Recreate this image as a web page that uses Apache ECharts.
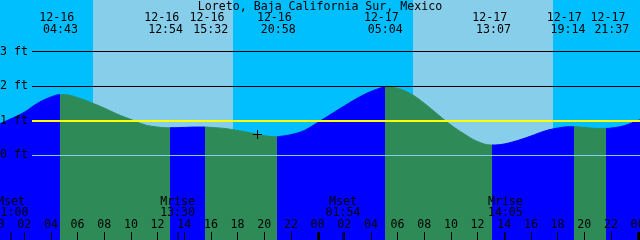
<!DOCTYPE html>
<html><head><meta charset="utf-8">
<script src="https://cdn.jsdelivr.net/npm/echarts@6/dist/echarts.min.js"></script>
<style>html,body{margin:0;padding:0;background:#00BFFF;}#c{width:640px;height:240px;}</style>
</head><body><div id="c"></div>
<script>
// ---------- data ----------
const titleText = 'Loreto, Baja California Sur, Mexico';
const hours = [0,1,2,3,4,5,6,7,8,9,10,11,12,13,14,15,16,17,18,19,20,21,22,23,24,25,26,27,28,29,30,31,32,33,34,35,36,37,38,39,40,41,42,43,44,45,46,47,48,48.2];
const levels = [0.88,1.05,1.24,1.50,1.68,1.75,1.66,1.52,1.36,1.18,1.03,0.88,0.81,0.79,0.80,0.81,0.80,0.77,0.71,0.64,0.56,0.53,0.59,0.71,0.94,1.18,1.42,1.65,1.84,1.98,1.93,1.77,1.50,1.18,0.87,0.61,0.39,0.29,0.32,0.42,0.55,0.69,0.78,0.82,0.80,0.77,0.78,0.85,1.00,1.02];
const extremeTimes = [4.717,12.9,15.533,20.967,29.067,37.117,43.233,45.617];
const extremeLevels = [1.75,0.79,0.81,0.53,1.99,0.29,0.82,0.77];
const extremeDates = ['12-16','12-16','12-16','12-16','12-17','12-17','12-17','12-17'];
const extremeClock = ['04:43','12:54','15:32','20:58','05:04','13:07','19:14','21:37'];
const moonTimes = [1.0,13.5,25.9,38.083];
const moonNames = ['Mset','Mrise','Mset','Mrise'];
const moonClock = ['01:00','13:30','01:54','14:05'];
const sunriseTimes = [7.155,31.155];
const sunsetTimes = [17.655,41.655];
const datumLevels = [3,2,1,0];
const datumLabels = ['3 ft','2 ft','1 ft','0 ft'];
const dayBoundaries = [24,48];
const markerTime = 19.48, markerLevel = 0.609;

// ---------- styles ----------
const FONT = '11.6px "DejaVu Sans Mono"';
const NIGHT = '#00BFFF', DAY = '#87CEEB', RISE = '#0000FF', FALL = '#2E8B57';
const datumColors = ['#000000','#000000','#FFFF00','#87CEEB'];
const datumWidths = [1,1,2,1];
const lineStartHour = 2.58;
const X_MIN = 0, X_MAX = 48.18;
const timeShift = [0,-4,6,1,0,1,-6,6];

// merged curve
const pts = hours.map((h,i)=>[h,levels[i]]).concat(extremeTimes.map((t,i)=>[t,extremeLevels[i]]));
pts.sort((a,b)=>a[0]-b[0]);

// rising/falling pieces
const bounds = [X_MIN].concat(extremeTimes).concat([X_MAX]);
const lastLevel = levels[levels.length-1];
const pieces = [];
for (let i=0;i<bounds.length-1;i++){
  const rising = (i < extremeTimes.length) ? (i===0 ? extremeLevels[0] > levels[0] : extremeLevels[i] > extremeLevels[i-1]) : (lastLevel > extremeLevels[extremeLevels.length-1]);
  const p = {gte: bounds[i], color: rising ? RISE : FALL};
  if (i < bounds.length-2) p.lt = bounds[i+1]; else p.lte = bounds[i+1] + 1;
  pieces.push(p);
}

function txt(x,y,s){
  return {type:'text', x:x, y:y, style:{text:s, fill:'#000', font:FONT, align:'center', verticalAlign:'middle', textAlign:'center', textVerticalAlign:'middle'}};
}

const chart = echarts.init(document.getElementById('c'), null, {renderer:'canvas'});
chart.setOption({
  backgroundColor: NIGHT,
  animation: false,
  title: {text: titleText, left:'center', top: 0, padding: [1,0,0,0],
    textStyle:{fontFamily:'DejaVu Sans Mono', fontSize:11.6, fontWeight:'normal', color:'#000'}},
  grid: {left: -2.4, right: 0, top: 0, bottom: 0, containLabel:false, outerBoundsMode:'none'},
  xAxis: {type:'value', min:X_MIN, max:X_MAX, interval:2, z:20, position:'bottom',
    axisLine:{show:false, onZero:false}, splitLine:{show:false},
    axisTick:{show:true, inside:true, length:8, lineStyle:{color:'#000', width:1}},
    axisLabel:{show:true, inside:true, margin:9, interval:0, showMinLabel:true, showMaxLabel:false, hideOverlap:false,
      fontFamily:'DejaVu Sans Mono', fontSize:11.6, color:'#000',
      formatter:(v)=>{const h=Math.round(v)%24; return (h<10?'0':'')+h;}}},
  yAxis: {type:'value', min:-2.4638, max:4.4928, show:false, splitLine:{show:false}},
  visualMap: {type:'piecewise', show:false, dimension:0, seriesIndex:0, pieces: pieces},
  series: [
    {type:'line', data: pts, smooth:0.4, symbol:'none', lineStyle:{width:1}, areaStyle:{opacity:1, origin:'start'}, z:3,
      markArea:{silent:true, itemStyle:{color:DAY}, data: sunriseTimes.map((t,i)=>[{xAxis:t},{xAxis:sunsetTimes[i]}])},
      markLine:{silent:true, symbol:['none','none'], animation:false,
        label:{show:true, position:'start', distance:4, formatter:'{b}', color:'#000', fontFamily:'DejaVu Sans Mono', fontSize:11.6},
        data: datumLevels.map((v,i)=>[{coord:[lineStartHour,v], name:datumLabels[i], lineStyle:{color:datumColors[i], width:datumWidths[i], type:'solid'}},{coord:[X_MAX,v]}])}
    },
    {type:'custom', z:10, silent:true, data: extremeTimes.map((t,i)=>[t,extremeLevels[i]]),
      renderItem:(params, api)=>{
        const i = params.dataIndex;
        const x = api.coord([api.value(0), 0])[0] + timeShift[i];
        return {type:'group', children:[txt(x-3.8, 17.5, extremeDates[i]), txt(x, 29.5, extremeClock[i])]};
      }},
    {type:'custom', z:10, silent:true, data: moonTimes.map(t=>[t,0]),
      renderItem:(params, api)=>{
        const i = params.dataIndex;
        const x = api.coord([api.value(0), 0])[0];
        return {type:'group', children:[txt(x, 202.2, moonNames[i]), txt(x, 213.3, moonClock[i]),
          {type:'rect', shape:{x:Math.round(x)-0.5, y:232, width:1, height:8}, style:{fill:'#000'}}]};
      }},
    {type:'custom', z:10, silent:true, data: dayBoundaries.map(t=>[t,0]),
      renderItem:(params, api)=>{
        const x = api.coord([api.value(0), 0])[0];
        return {type:'rect', shape:{x:x-0.6, y:232, width:3, height:8}, style:{fill:'#000'}};
      }},
    {type:'custom', z:10, silent:true, data: [[markerTime, markerLevel]],
      renderItem:(params, api)=>{
        const p = api.coord([api.value(0), api.value(1)]);
        const x = Math.round(p[0])+0.5, y = Math.round(p[1])+0.5;
        return {type:'group', children:[
          {type:'line', shape:{x1:x-4.5,y1:y,x2:x+4.5,y2:y}, style:{stroke:'#000', lineWidth:1}},
          {type:'line', shape:{x1:x,y1:y-4.5,x2:x,y2:y+4.5}, style:{stroke:'#000', lineWidth:1}}]};
      }}
  ]
});
</script></body></html>
